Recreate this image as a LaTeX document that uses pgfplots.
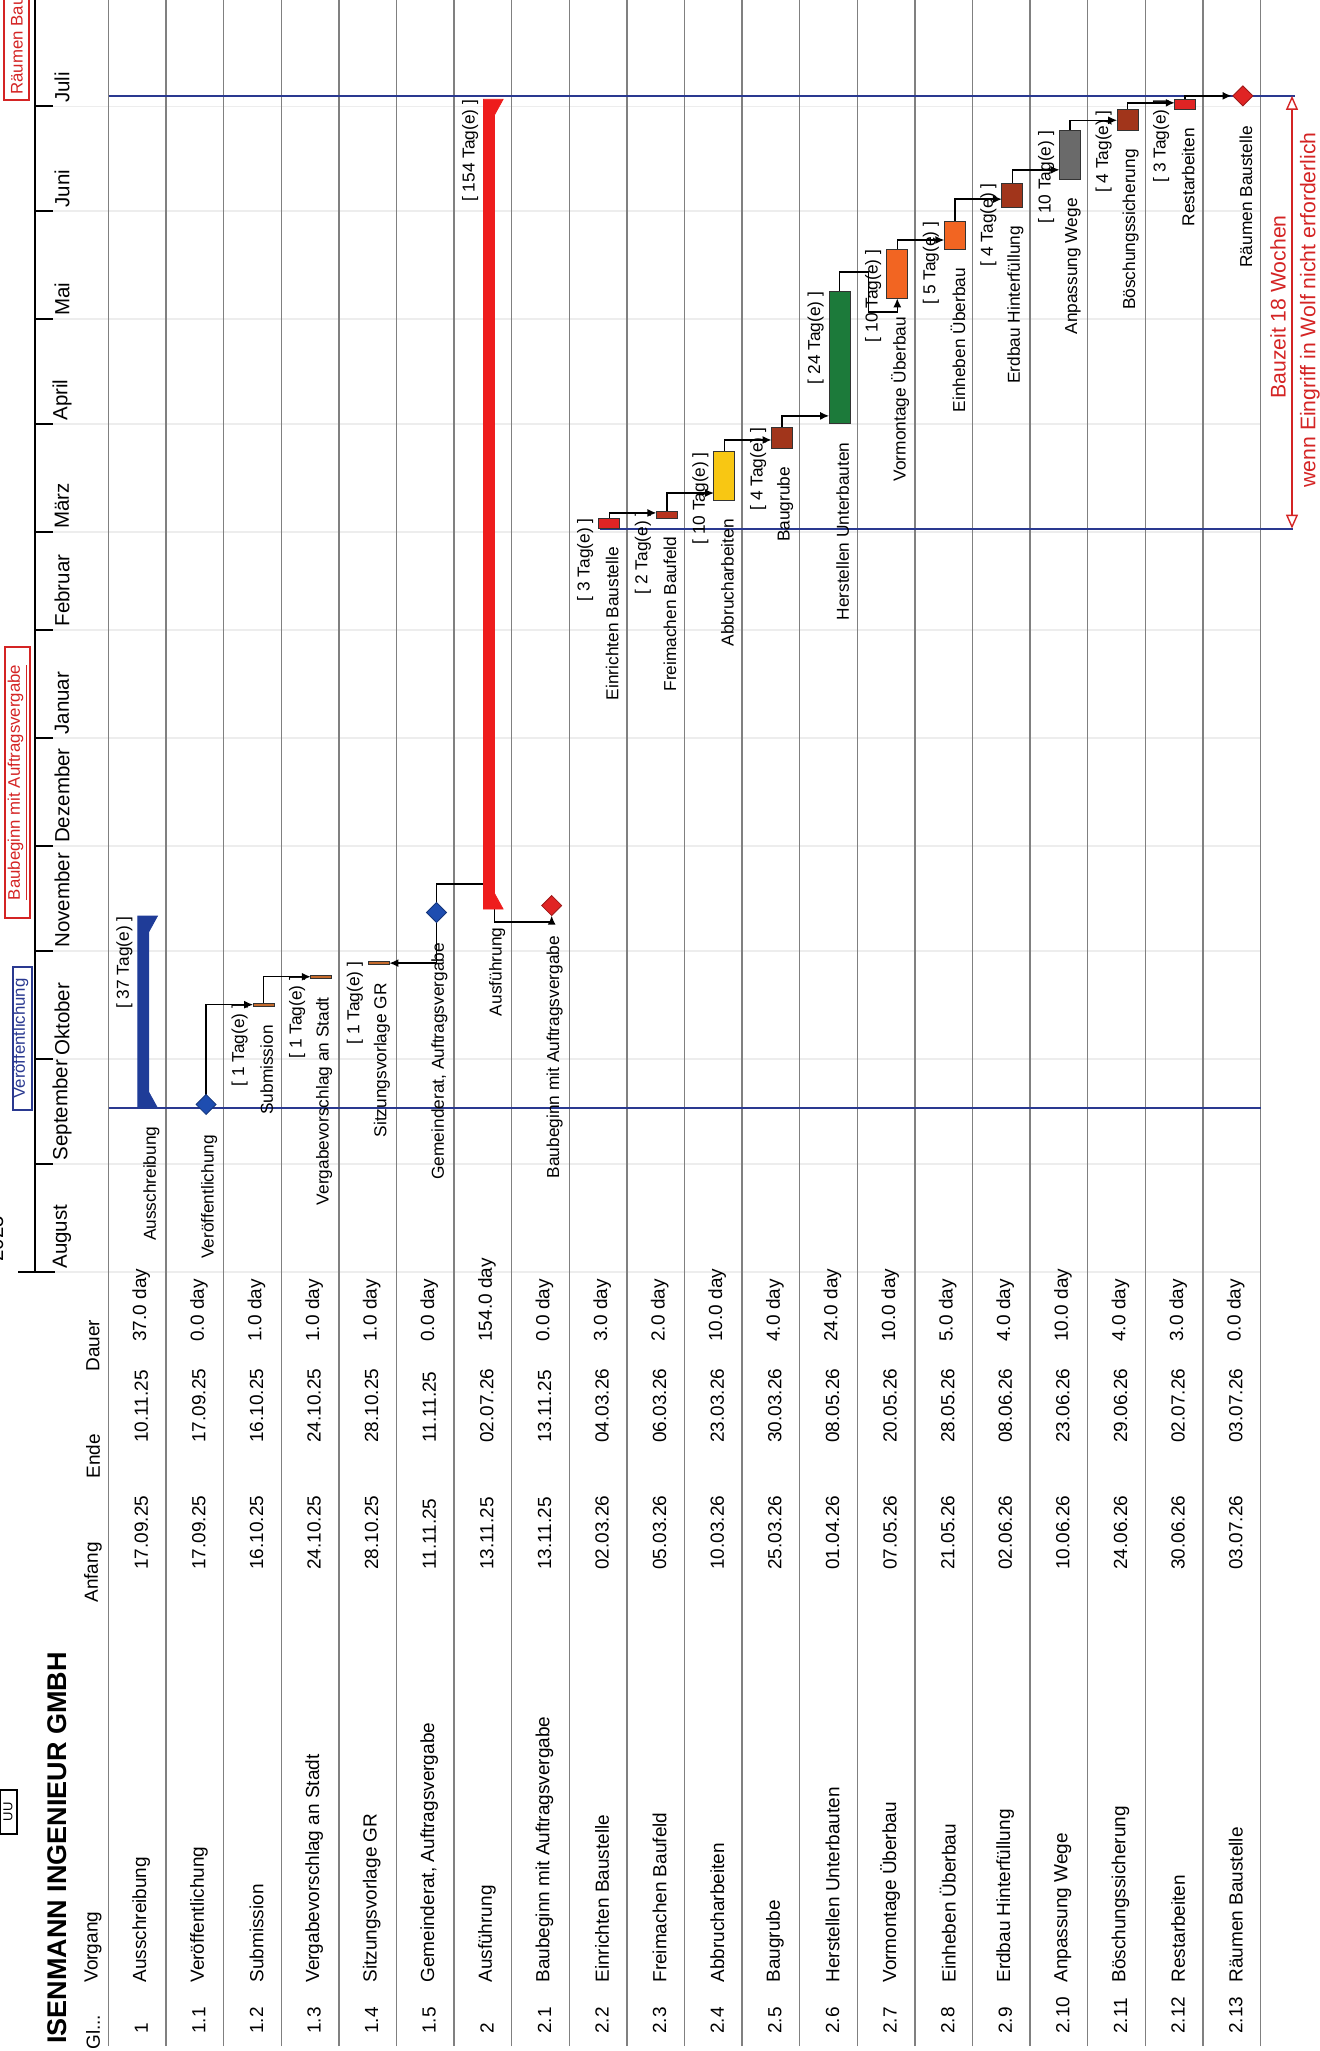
\documentclass[border=0pt]{standalone}
\usepackage{fontspec}
\setmainfont{Liberation Sans}
\usepackage{pgfplots}
\pgfplotsset{compat=1.18}
\usepackage{pgfplotstable}
\usetikzlibrary{arrows.meta}

\definecolor{msblue}{HTML}{1E4DB0}
\definecolor{lineblue}{HTML}{2A3990}
\definecolor{annot}{HTML}{D42424}
% bar colours by index
\definecolor{bc0}{HTML}{C46A2C}% brown-orange
\definecolor{bc1}{HTML}{E02424}% red
\definecolor{bc2}{HTML}{B8341F}% red-brown
\definecolor{bc3}{HTML}{F8C713}% yellow
\definecolor{bc4}{HTML}{A1351B}% brown
\definecolor{bc5}{HTML}{1C7A3A}% green
\definecolor{bc6}{HTML}{F26522}% orange
\definecolor{bc7}{HTML}{6A6A6A}% grey
\definecolor{bc8}{HTML}{1F3C98}% navy summary
\definecolor{bc9}{HTML}{EE1D1D}% red summary

% days counted from 01.08.2025 (=0); end day inclusive
\pgfplotstableread{
row s   e   ci
2   76  76  0
3   84  84  0
4   88  88  0
8   213 215 1
9   216 217 2
10  221 234 3
11  236 241 4
12  243 280 5
13  279 292 6
14  293 300 6
15  305 311 4
16  313 326 7
17  327 332 4
18  333 335 1
}\tasks

\pgfplotstableread{
row s   e   ci
0   47  101 8
6   104 335 9
}\summary

\pgfplotstableread{
row d
1   47
5   102
}\msblue

\pgfplotstableread{
row d
7   104
19  336
}\msred

\tikzset{
  lbl/.style={rotate=90, inner sep=0pt, anchor=east, font=\fontsize{8.65pt}{10pt}\selectfont},
  tbl/.style={rotate=90, inner sep=0pt, anchor=west, font=\fontsize{9.5pt}{11pt}\selectfont},
  mon/.style={rotate=90, inner sep=0pt, anchor=west, font=\fontsize{10.25pt}{12pt}\selectfont},
  conn/.style={black, line width=0.75pt, -{Latex[length=4.5pt,width=4pt]}},
}

\begin{document}
\begin{tikzpicture}
\begin{axis}[
  at={(0pt,0pt)}, anchor=south west,
  scale only axis, width=660pt, height=1025.5pt,
  xmin=-1.88368, xmax=21.03299,
  ymin=-223.2092, ymax=364.4699,
  hide axis, clip=false,
]
% month lines and row rules
\pgfplotsinvokeforeach{0,31,61,92,122,153,184,212,243,273,304,334}{
  \addplot[black!7, line width=0.8pt] coordinates {(-1.24,#1) (20,#1)};
}
\pgfplotsinvokeforeach{0,...,20}{
  \addplot[black!50, line width=0.7pt] coordinates {(#1,-221.8) (#1,364.5)};
}

% date lines
\addplot[lineblue, line width=0.9pt] coordinates {(0,47) (20,47)};
\addplot[lineblue, line width=0.9pt] coordinates {(8.53,213) (20.56,213)};
\addplot[lineblue, line width=0.9pt] coordinates {(0,337) (20.6,337)};

% task bars
\addplot[scatter, only marks, mark=*, mark size=0pt, mark options={draw=none, fill=none},
  visualization depends on={\thisrow{e}+1-\thisrow{s} \as \blen},
  visualization depends on={\thisrow{ci} \as \bci},
  scatter/@pre marker code/.code={%
    \pgfmathtruncatemacro\ci{\bci}%
    \filldraw[draw=black!80, line width=0.5pt, fill=bc\ci]
      (axis direction cs:-0.182,0) rectangle (axis direction cs:0.182,\blen);},
  scatter/@post marker code/.code={}]
  table[x expr=\thisrow{row}+0.694, y=s] {\tasks};

% summary bars
\addplot[scatter, only marks, mark=*, mark size=0pt, mark options={draw=none, fill=none},
  visualization depends on={\thisrow{e}+1-\thisrow{s} \as \blen},
  visualization depends on={\thisrow{e}+1-\thisrow{s}-4.5 \as \binn},
  visualization depends on={\thisrow{ci} \as \bci},
  scatter/@pre marker code/.code={%
    \pgfmathtruncatemacro\ci{\bci}%
    \fill[bc\ci] (axis direction cs:0,0) -- (axis direction cs:0.34,0)
      -- (axis direction cs:0.19,4.5) -- (axis direction cs:0.19,\binn)
      -- (axis direction cs:0.34,\blen) -- (axis direction cs:0,\blen) -- cycle;},
  scatter/@post marker code/.code={}]
  table[x expr=\thisrow{row}+0.51, y=s] {\summary};

% links
\addplot[conn] coordinates {(1.694,48) (1.694,76.6) (2.512,76.6)};
\addplot[conn] coordinates {(2.694,77) (2.694,84.6) (3.512,84.6)};
\addplot[conn] coordinates {(5.694,103) (5.694,88.5) (4.876,88.5)};
\addplot[conn] coordinates {(5.694,103) (5.694,111.2) (6.70,111.2) (6.70,100.3) (7.694,100.3) (7.694,102.1)};
\addplot[conn] coordinates {(8.694,216) (8.694,217.5) (9.512,217.5)};
\addplot[conn] coordinates {(9.694,218) (9.694,223.2) (10.512,223.2)};
\addplot[conn] coordinates {(10.694,235) (10.694,238.4) (11.512,238.4)};
\addplot[conn] coordinates {(11.694,242) (11.694,245.3) (12.512,245.3)};
\addplot[conn] coordinates {(12.694,281) (12.694,286.5) (13.19,286.5) (13.19,275) (13.694,275) (13.694,279)};
\addplot[conn] coordinates {(13.694,293) (13.694,295.7) (14.512,295.7)};
\addplot[conn] coordinates {(14.694,301) (14.694,307.4) (15.512,307.4)};
\addplot[conn] coordinates {(15.694,312) (15.694,315.8) (16.512,315.8)};
\addplot[conn] coordinates {(16.694,327) (16.694,330) (17.512,330)};
\addplot[conn] coordinates {(17.694,333) (17.694,335) (18.512,335)};
\addplot[conn, line width=1.2pt] coordinates {(18.694,336) (18.694,337) (19.50,337)};

% milestones
\addplot[only marks, mark=diamond*, mark size=5pt,
  mark options={xscale=1.333, fill=msblue, draw=msblue!70!black, line width=0.4pt}]
  table[x expr=\thisrow{row}+0.694, y expr=\thisrow{d}+1] {\msblue};
\addplot[only marks, mark=diamond*, mark size=5pt,
  mark options={xscale=1.333, fill=bc1, draw=bc1!70!black, line width=0.4pt}]
  table[x expr=\thisrow{row}+0.694, y expr=\thisrow{d}+1] {\msred};

% construction period
\addplot[annot, line width=0.7pt, {Triangle[open,length=7pt,width=6pt]}-{Triangle[open,length=7pt,width=6pt]}]
  coordinates {(20.547,213) (20.547,337)};

% durations
\node[lbl] at (axis cs:0.277,102) {[ 37 Tag(e) ]};
\node[lbl] at (axis cs:2.277,77) {[ 1 Tag(e) ]};
\node[lbl] at (axis cs:3.277,85) {[ 1 Tag(e) ]};
\node[lbl] at (axis cs:4.277,89) {[ 1 Tag(e) ]};
\node[lbl] at (axis cs:6.277,336) {[ 154 Tag(e) ]};
\node[lbl] at (axis cs:8.277,216) {[ 3 Tag(e) ]};
\node[lbl] at (axis cs:9.277,218) {[ 2 Tag(e) ]};
\node[lbl] at (axis cs:10.277,235) {[ 10 Tag(e) ]};
\node[lbl] at (axis cs:11.277,242) {[ 4 Tag(e) ]};
\node[lbl] at (axis cs:12.277,281) {[ 24 Tag(e) ]};
\node[lbl] at (axis cs:13.277,293) {[ 10 Tag(e) ]};
\node[lbl] at (axis cs:14.277,301) {[ 5 Tag(e) ]};
\node[lbl] at (axis cs:15.277,312) {[ 4 Tag(e) ]};
\node[lbl] at (axis cs:16.277,327) {[ 10 Tag(e) ]};
\node[lbl] at (axis cs:17.277,333) {[ 4 Tag(e) ]};
\node[lbl] at (axis cs:18.277,336) {[ 3 Tag(e) ]};

% names
\node[lbl] at (axis cs:0.746,41.8) {Ausschreibung};
\node[lbl] at (axis cs:1.746,39.4) {Veröffentlichung};
\node[lbl] at (axis cs:2.746,70.8) {Submission};
\node[lbl] at (axis cs:3.746,78.8) {Vergabevorschlag an Stadt};
\node[lbl] at (axis cs:4.746,82.8) {Sitzungsvorlage GR};
\node[lbl] at (axis cs:5.746,94.4) {Gemeinderat, Auftragsvergabe};
\node[lbl] at (axis cs:6.746,98.8) {Ausführung};
\node[lbl] at (axis cs:7.746,96.4) {Baubeginn mit Auftragsvergabe};
\node[lbl] at (axis cs:8.746,207.8) {Einrichten Baustelle};
\node[lbl] at (axis cs:9.746,210.8) {Freimachen Baufeld};
\node[lbl] at (axis cs:10.746,215.8) {Abbrucharbeiten};
\node[lbl] at (axis cs:11.746,230.8) {Baugrube};
\node[lbl] at (axis cs:12.746,237.8) {Herstellen Unterbauten};
\node[lbl] at (axis cs:13.746,273.8) {Vormontage Überbau};
\node[lbl] at (axis cs:14.746,287.8) {Einheben Überbau};
\node[lbl] at (axis cs:15.746,299.8) {Erdbau Hinterfüllung};
\node[lbl] at (axis cs:16.746,307.8) {Anpassung Wege};
\node[lbl] at (axis cs:17.746,321.8) {Böschungssicherung};
\node[lbl] at (axis cs:18.746,327.8) {Restarbeiten};
\node[lbl] at (axis cs:19.746,328.4) {Räumen Baustelle};
\end{axis}

% page coordinates in pixels of the reference (x right, y down)
\begin{scope}[shift={(0pt,1025.5pt)}, x=0.5pt, y=-0.5pt]
  % time scale
  \draw[line width=0.9pt] (35,0) -- (35,1272);
  \draw[line width=0.9pt] (18,1272) -- (55,1272);
  \foreach \d in {31,61,92,122,153,184,212,243,273,304,334}
    \draw[line width=0.9pt] (35,{1272-3.49*\d}) -- (53,{1272-3.49*\d});
  \foreach \d/\m in {0/August,31/September,61/Oktober,92/November,122/Dezember,153/Januar,
                     184/Februar,212/März,243/April,273/Mai,304/Juni,334/Juli}
    \node[mon] at (62,{1272-3.49*\d-3}) {\m};
  \node[mon] at (-4,1262) {2025};

  % flags
  \draw[lineblue, line width=0.7pt] (13,967) rectangle (32,1110);
  \node[rotate=90, inner sep=0pt, text=lineblue, font=\fontsize{8.4pt}{10pt}\selectfont] at (22.5,1038.5) {\underline{Veröffentlichung}};
  \draw[annot, line width=0.7pt] (5,647) rectangle (30,918);
  \node[rotate=90, inner sep=0pt, text=annot, font=\fontsize{8.4pt}{10pt}\selectfont] at (17.5,782.5) {\underline{Baubeginn mit Auftragsvergabe}};
  \draw[annot, line width=0.7pt] (4,-10) rectangle (29,100);
  \node[rotate=90, inner sep=0pt, anchor=west, text=annot, font=\fontsize{8.4pt}{10pt}\selectfont] at (16.5,95) {Räumen Baustelle};

  % company (cut at the page edge)
  \node[rotate=90, inner sep=0pt, anchor=west, font=\bfseries\fontsize{13.5pt}{16pt}\selectfont] at (57,2044) {ISENMANN INGENIEUR GMBH};
  \draw[line width=0.6pt] (0,1790) rectangle (17,1834);
  \node[rotate=90, inner sep=0pt, font=\fontsize{6.5pt}{8pt}\selectfont] at (8,1812) {UU};

  % table header
  \node[tbl] at (93,2050) {Gl...};
  \node[tbl] at (93,1983) {Vorgang};
  \node[tbl] at (93,1603) {Anfang};
  \node[tbl] at (93,1479) {Ende};
  \node[tbl] at (93,1372) {Dauer};

  % table rows
  \foreach [count=\k from 0] \id/\nm/\a/\b/\du in {
    1/Ausschreibung/17.09.25/10.11.25/37.0 day,
    1.1/Veröffentlichung/17.09.25/17.09.25/0.0 day,
    1.2/Submission/16.10.25/16.10.25/1.0 day,
    1.3/Vergabevorschlag an Stadt/24.10.25/24.10.25/1.0 day,
    1.4/Sitzungsvorlage GR/28.10.25/28.10.25/1.0 day,
    1.5/{Gemeinderat, Auftragsvergabe}/11.11.25/11.11.25/0.0 day,
    2/Ausführung/13.11.25/02.07.26/154.0 day,
    2.1/Baubeginn mit Auftragsvergabe/13.11.25/13.11.25/0.0 day,
    2.2/Einrichten Baustelle/02.03.26/04.03.26/3.0 day,
    2.3/Freimachen Baufeld/05.03.26/06.03.26/2.0 day,
    2.4/Abbrucharbeiten/10.03.26/23.03.26/10.0 day,
    2.5/Baugrube/25.03.26/30.03.26/4.0 day,
    2.6/Herstellen Unterbauten/01.04.26/08.05.26/24.0 day,
    2.7/Vormontage Überbau/07.05.26/20.05.26/10.0 day,
    2.8/Einheben Überbau/21.05.26/28.05.26/5.0 day,
    2.9/Erdbau Hinterfüllung/02.06.26/08.06.26/4.0 day,
    2.10/Anpassung Wege/10.06.26/23.06.26/10.0 day,
    2.11/Böschungssicherung/24.06.26/29.06.26/4.0 day,
    2.12/Restarbeiten/30.06.26/02.07.26/3.0 day,
    2.13/Räumen Baustelle/03.07.26/03.07.26/0.0 day} {
    \pgfmathsetmacro{\xx}{141.3+57.6*\k}
    \node[tbl] at (\xx,2034) {\id};
    \node[tbl] at (\xx,1983) {\nm};
    \node[tbl] at (\xx,1570) {\a};
    \node[tbl] at (\xx,1443) {\b};
    \node[tbl] at (\xx,1342) {\du};
  }

  % annotation
  \node[rotate=90, inner sep=0pt, text=annot, font=\fontsize{10.6pt}{12pt}\selectfont] at (1278,307) {Bauzeit 18 Wochen};
  \node[rotate=90, inner sep=0pt, text=annot, font=\fontsize{10.6pt}{12pt}\selectfont] at (1310,310) {wenn Eingriff in Wolf nicht erforderlich};
\end{scope}

\pgfresetboundingbox
\path[use as bounding box] (0pt,0pt) rectangle (660pt,1025.5pt);
\end{tikzpicture}
\end{document}
